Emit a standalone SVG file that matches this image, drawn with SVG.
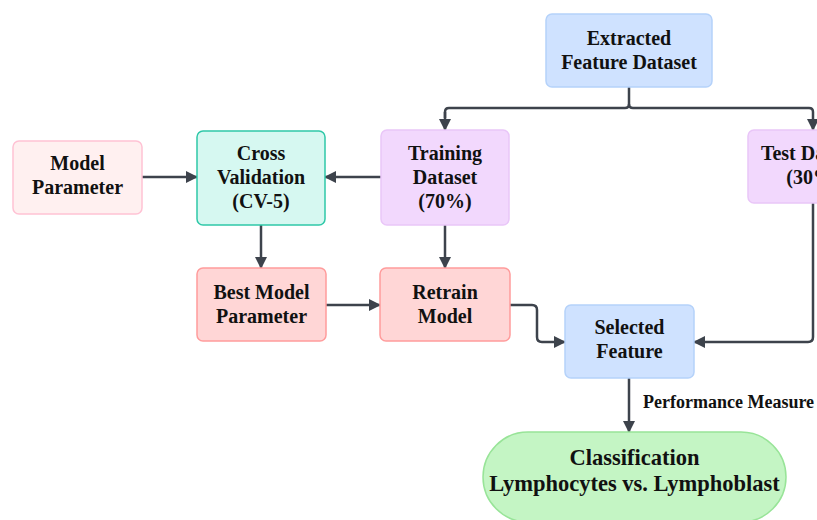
<svg xmlns="http://www.w3.org/2000/svg" width="817" height="520" viewBox="0 0 817 520">
<defs>
<marker id="ah" viewBox="0 0 12 12" refX="11" refY="6" markerWidth="12" markerHeight="12" markerUnits="userSpaceOnUse" orient="auto">
<path d="M0,0 L12,6 L0,12 Z" fill="#3d434c"/>
</marker>
<style>
text{font-family:"Liberation Serif","Times New Roman",serif;font-weight:bold;font-size:20px;fill:#111;text-anchor:middle}
.c{fill:none;stroke:#3d434c;stroke-width:2.5;marker-end:url(#ah)}
.n{fill:none;stroke:#3d434c;stroke-width:2.5}
.blue{fill:#cfe2ff;stroke:#b5d2fa;stroke-width:1.5}
.pink{fill:#fff0f0;stroke:#ffc2d4;stroke-width:1.5}
.teal{fill:#d6f8f1;stroke:#2fc8a8;stroke-width:1.5}
.purp{fill:#f2d8fd;stroke:#e9c6f8;stroke-width:1.5}
.red{fill:#ffd6d6;stroke:#ff9c9c;stroke-width:1.5}
.green{fill:#c4f5c4;stroke:#98e498;stroke-width:1.5}
.pm{font-size:18px;text-anchor:start}
.big{font-size:22.5px}
</style>
</defs>
<g id="connectors">
<path class="n" d="M629,87 V104 Q629,108 625,108 H449 Q445,108 445,112 V118"/>
<path class="c" d="M445,112 V130"/>
<path class="c" d="M629,104 Q629,108 633,108 H809 Q813,108 813,112 V130"/>
<path class="c" d="M142,177 H197"/>
<path class="c" d="M381,177 H325"/>
<path class="c" d="M261,225 V268"/>
<path class="c" d="M445,225 V268"/>
<path class="c" d="M326,305 H380"/>
<path class="c" d="M510,305 H532 Q537,305 537,310 V337 Q537,342 542,342 H565"/>
<path class="c" d="M813,203 V337 Q813,342 808,342 H694"/>
<path class="c" d="M629,378 V432"/>
<text class="pm" x="643" y="408">Performance Measure</text>
</g>
<g id="extracted">
<rect class="blue" x="546" y="14" width="166" height="73" rx="6"/>
<text x="629" y="45">Extracted</text>
<text x="629" y="69">Feature Dataset</text>
</g>
<g id="model-parameter">
<rect class="pink" x="13" y="141" width="129" height="73" rx="6"/>
<text x="77.5" y="170">Model</text>
<text x="77.5" y="194">Parameter</text>
</g>
<g id="cross-validation">
<rect class="teal" x="197" y="131" width="128" height="94" rx="6"/>
<text x="261" y="160">Cross</text>
<text x="261" y="184">Validation</text>
<text x="261" y="208">(CV-5)</text>
</g>
<g id="training">
<rect class="purp" x="381" y="130" width="128" height="95" rx="6"/>
<text x="445" y="160">Training</text>
<text x="445" y="184">Dataset</text>
<text x="445" y="208">(70%)</text>
</g>
<g id="test">
<rect class="purp" x="748" y="130" width="130" height="73" rx="6"/>
<text x="813" y="160">Test Dataset</text>
<text x="813" y="184">(30%)</text>
</g>
<g id="best-model">
<rect class="red" x="197" y="268" width="129" height="73" rx="6"/>
<text x="261.5" y="299">Best Model</text>
<text x="261.5" y="323">Parameter</text>
</g>
<g id="retrain">
<rect class="red" x="380" y="268" width="130" height="73" rx="6"/>
<text x="445" y="299">Retrain</text>
<text x="445" y="323">Model</text>
</g>
<g id="selected">
<rect class="blue" x="565" y="305" width="129" height="73" rx="6"/>
<text x="629.5" y="334">Selected</text>
<text x="629.5" y="358">Feature</text>
</g>
<g id="classification">
<rect class="green" x="483" y="432" width="303" height="90" rx="45"/>
<text class="big" x="634.5" y="465">Classification</text>
<text class="big" x="634.5" y="491">Lymphocytes vs. Lymphoblast</text>
</g>
</svg>
